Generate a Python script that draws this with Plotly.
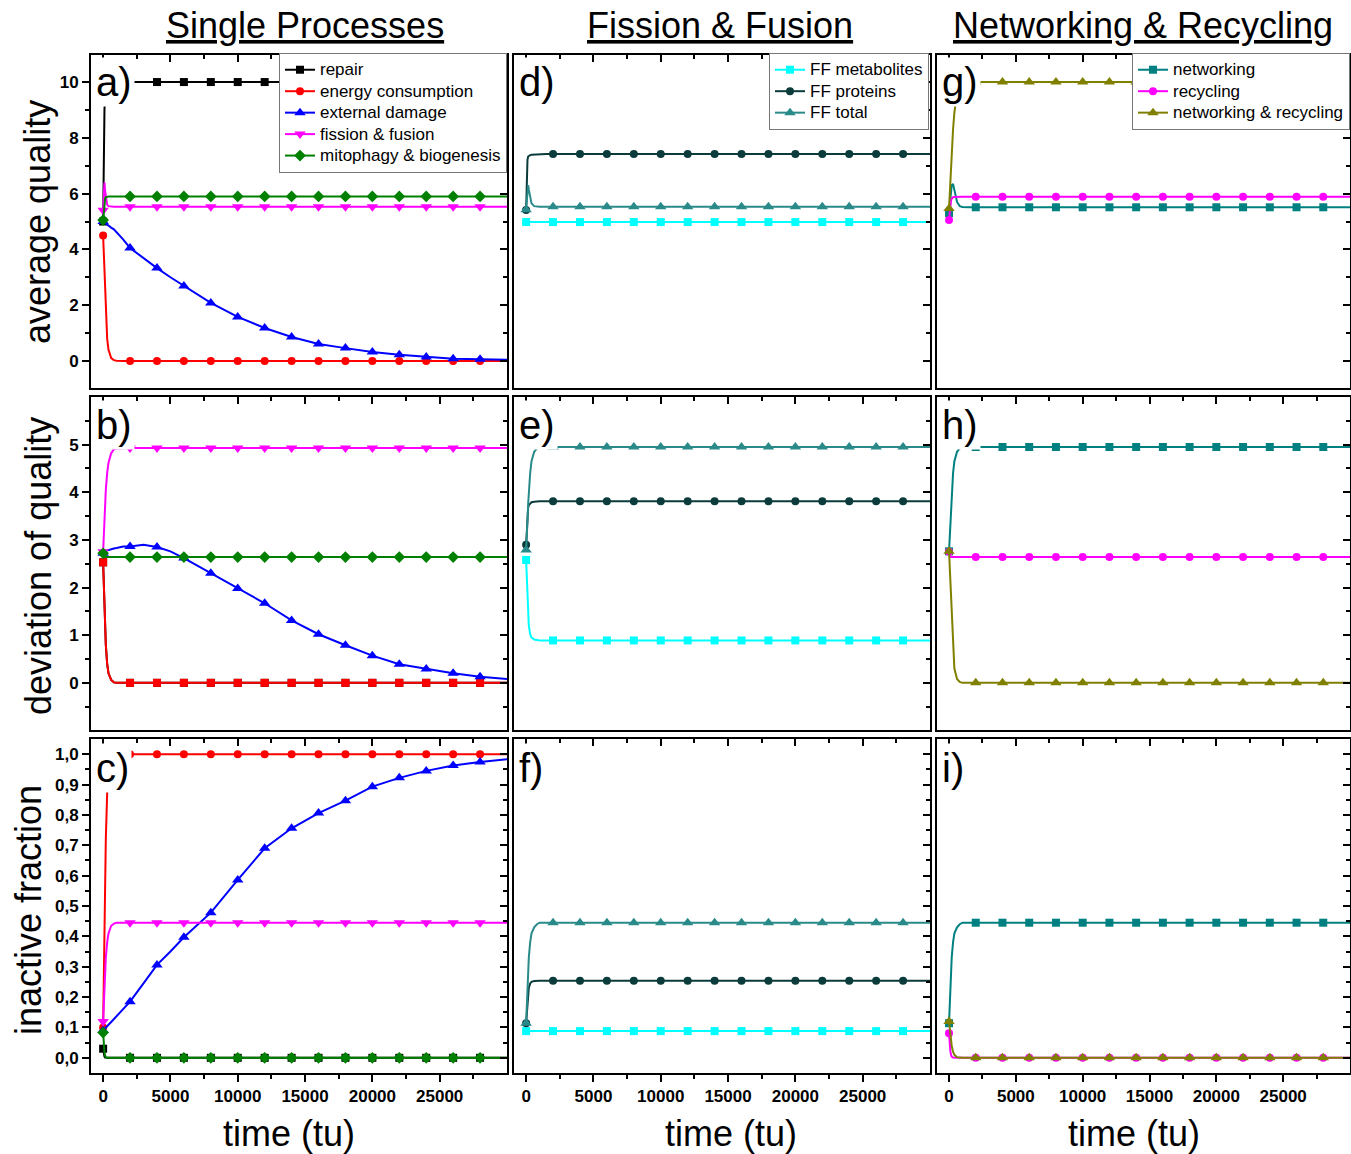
import plotly.graph_objects as go

W, H = 1351, 1154

# ---------------- data ----------------
time = [0, 25, 50, 100, 150, 200, 300, 400, 600, 800, 1000, 1500,
        2000, 3000, 4000, 5000, 6000, 8000, 10000, 12000, 14000, 16000,
        18000, 20000, 22000, 24000, 26000, 28000, 30000]

# Single processes: average quality
repair_q   = [5.0, 6.2, 7.5, 9.0, 9.6, 9.85, 9.97, 10.0, 10.0, 10.0, 10.0, 10.0,
              10.0, 10.0, 10.0, 10.0, 10.0, 10.0, 10.0, 10.0, 10.0, 10.0, 10.0, 10.0, 10.0, 10.0, 10.0, 10.0, 10.0]
energy_q   = [4.5, 4.2, 3.8, 3.0, 2.2, 1.6, 0.8, 0.4, 0.1, 0.03, 0.01, 0.0,
              0.0, 0.0, 0.0, 0.0, 0.0, 0.0, 0.0, 0.0, 0.0, 0.0, 0.0, 0.0, 0.0, 0.0, 0.0, 0.0, 0.0]
external_q = [5.0, 4.99, 4.98, 4.96, 4.94, 4.92, 4.88, 4.85, 4.78, 4.72, 4.62, 4.35,
              4.05, 3.68, 3.33, 3.0, 2.69, 2.08, 1.58, 1.18, 0.86, 0.61, 0.46, 0.32, 0.22, 0.14, 0.08, 0.06, 0.04]
fission_q  = [5.4, 5.8, 6.1, 6.4, 6.1, 5.85, 5.6, 5.55, 5.53, 5.53, 5.53, 5.53,
              5.53, 5.53, 5.53, 5.53, 5.53, 5.53, 5.53, 5.53, 5.53, 5.53, 5.53, 5.53, 5.53, 5.53, 5.53, 5.53, 5.53]
mito_q     = [5.05, 5.25, 5.45, 5.7, 5.82, 5.87, 5.89, 5.9, 5.9, 5.9, 5.9, 5.9,
              5.9, 5.9, 5.9, 5.9, 5.9, 5.9, 5.9, 5.9, 5.9, 5.9, 5.9, 5.9, 5.9, 5.9, 5.9, 5.9, 5.9]

# Single processes: deviation of quality
repair_d   = [2.53, 2.3, 2.0, 1.5, 1.1, 0.8, 0.4, 0.2, 0.06, 0.01, 0.0, 0.0,
              0.0, 0.0, 0.0, 0.0, 0.0, 0.0, 0.0, 0.0, 0.0, 0.0, 0.0, 0.0, 0.0, 0.0, 0.0, 0.0, 0.0]
energy_d   = [2.53, 2.3, 2.0, 1.5, 1.1, 0.8, 0.4, 0.2, 0.06, 0.01, 0.0, 0.0,
              0.0, 0.0, 0.0, 0.0, 0.0, 0.0, 0.0, 0.0, 0.0, 0.0, 0.0, 0.0, 0.0, 0.0, 0.0, 0.0, 0.0]
external_d = [2.72, 2.73, 2.74, 2.75, 2.76, 2.77, 2.78, 2.79, 2.8, 2.82, 2.83, 2.86,
              2.86, 2.9, 2.85, 2.76, 2.62, 2.30, 1.98, 1.67, 1.31, 1.02, 0.79, 0.57, 0.39, 0.29, 0.20, 0.13, 0.08]
fission_d  = [2.75, 2.95, 3.15, 3.5, 3.8, 4.05, 4.4, 4.62, 4.82, 4.9, 4.92, 4.93,
              4.93, 4.93, 4.93, 4.93, 4.93, 4.93, 4.93, 4.93, 4.93, 4.93, 4.93, 4.93, 4.93, 4.93, 4.93, 4.93, 4.93]
mito_d     = [2.72, 2.68, 2.66, 2.64, 2.64, 2.64, 2.64, 2.64, 2.64, 2.64, 2.64, 2.64,
              2.64, 2.64, 2.64, 2.64, 2.64, 2.64, 2.64, 2.64, 2.64, 2.64, 2.64, 2.64, 2.64, 2.64, 2.64, 2.64, 2.64]

# Single processes: inactive fraction
repair_i   = [0.03, 0.02, 0.012, 0.004, 0.001, 0.0, 0.0, 0.0, 0.0, 0.0, 0.0, 0.0,
              0.0, 0.0, 0.0, 0.0, 0.0, 0.0, 0.0, 0.0, 0.0, 0.0, 0.0, 0.0, 0.0, 0.0, 0.0, 0.0, 0.0]
energy_i   = [0.1, 0.18, 0.28, 0.45, 0.6, 0.72, 0.87, 0.94, 0.985, 0.997, 1.0, 1.0,
              1.0, 1.0, 1.0, 1.0, 1.0, 1.0, 1.0, 1.0, 1.0, 1.0, 1.0, 1.0, 1.0, 1.0, 1.0, 1.0, 1.0]
external_i = [0.09, 0.091, 0.092, 0.095, 0.097, 0.1, 0.104, 0.109, 0.118, 0.128, 0.137, 0.16,
              0.185, 0.245, 0.306, 0.35, 0.397, 0.478, 0.586, 0.690, 0.756, 0.806, 0.847, 0.893, 0.922, 0.945, 0.963, 0.974, 0.983]
fission_i  = [0.12, 0.15, 0.18, 0.24, 0.29, 0.33, 0.38, 0.41, 0.435, 0.442, 0.445, 0.445,
              0.445, 0.445, 0.445, 0.445, 0.445, 0.445, 0.445, 0.445, 0.445, 0.445, 0.445, 0.445, 0.445, 0.445, 0.445, 0.445, 0.445]
mito_i     = [0.083, 0.06, 0.042, 0.018, 0.007, 0.002, 0.0, 0.0, 0.0, 0.0, 0.0, 0.0,
              0.0, 0.0, 0.0, 0.0, 0.0, 0.0, 0.0, 0.0, 0.0, 0.0, 0.0, 0.0, 0.0, 0.0, 0.0, 0.0, 0.0]

# Fission & fusion
ffm_q = [4.98, 4.98, 4.98, 4.98, 4.98, 4.98, 4.98, 4.98, 4.98, 4.98, 4.98, 4.98,
         4.98, 4.98, 4.98, 4.98, 4.98, 4.98, 4.98, 4.98, 4.98, 4.98, 4.98, 4.98, 4.98, 4.98, 4.98, 4.98, 4.98]
ffp_q = [5.41, 5.9, 6.5, 7.2, 7.33, 7.36, 7.38, 7.39, 7.4, 7.41, 7.42, 7.42,
         7.42, 7.42, 7.42, 7.42, 7.42, 7.42, 7.42, 7.42, 7.42, 7.42, 7.42, 7.42, 7.42, 7.42, 7.42, 7.42, 7.42]
fft_q = [5.42, 5.6, 5.85, 6.2, 6.3, 6.15, 5.85, 5.65, 5.55, 5.53, 5.53, 5.53,
         5.53, 5.53, 5.53, 5.53, 5.53, 5.53, 5.53, 5.53, 5.53, 5.53, 5.53, 5.53, 5.53, 5.53, 5.53, 5.53, 5.53]
ffm_d = [2.58, 2.35, 2.1, 1.7, 1.4, 1.2, 1.02, 0.95, 0.91, 0.9, 0.89, 0.89,
         0.89, 0.89, 0.89, 0.89, 0.89, 0.89, 0.89, 0.89, 0.89, 0.89, 0.89, 0.89, 0.89, 0.89, 0.89, 0.89, 0.89]
ffp_d = [2.9, 3.1, 3.3, 3.55, 3.67, 3.73, 3.77, 3.79, 3.8, 3.81, 3.81, 3.81,
         3.81, 3.81, 3.81, 3.81, 3.81, 3.81, 3.81, 3.81, 3.81, 3.81, 3.81, 3.81, 3.81, 3.81, 3.81, 3.81, 3.81]
fft_d = [2.79, 2.9, 3.05, 3.4, 3.75, 4.0, 4.4, 4.65, 4.85, 4.92, 4.94, 4.95,
         4.95, 4.95, 4.95, 4.95, 4.95, 4.95, 4.95, 4.95, 4.95, 4.95, 4.95, 4.95, 4.95, 4.95, 4.95, 4.95, 4.95]
ffm_i = [0.088, 0.088, 0.088, 0.088, 0.088, 0.088, 0.088, 0.088, 0.088, 0.088, 0.088, 0.088,
         0.088, 0.088, 0.088, 0.088, 0.088, 0.088, 0.088, 0.088, 0.088, 0.088, 0.088, 0.088, 0.088, 0.088, 0.088, 0.088, 0.088]
ffp_i = [0.114, 0.13, 0.15, 0.19, 0.215, 0.23, 0.245, 0.25, 0.253, 0.254, 0.254, 0.254,
         0.254, 0.254, 0.254, 0.254, 0.254, 0.254, 0.254, 0.254, 0.254, 0.254, 0.254, 0.254, 0.254, 0.254, 0.254, 0.254, 0.254]
fft_i = [0.114, 0.14, 0.17, 0.24, 0.29, 0.33, 0.38, 0.41, 0.43, 0.44, 0.445, 0.445,
         0.445, 0.445, 0.445, 0.445, 0.445, 0.445, 0.445, 0.445, 0.445, 0.445, 0.445, 0.445, 0.445, 0.445, 0.445, 0.445, 0.445]

# Networking & recycling
net_q = [5.3, 5.45, 5.6, 5.9, 6.15, 6.3, 6.35, 6.1, 5.7, 5.55, 5.52, 5.51,
         5.51, 5.51, 5.51, 5.51, 5.51, 5.51, 5.51, 5.51, 5.51, 5.51, 5.51, 5.51, 5.51, 5.51, 5.51, 5.51, 5.51]
rec_q = [5.05, 5.2, 5.35, 5.6, 5.75, 5.82, 5.87, 5.88, 5.89, 5.89, 5.89, 5.89,
         5.89, 5.89, 5.89, 5.89, 5.89, 5.89, 5.89, 5.89, 5.89, 5.89, 5.89, 5.89, 5.89, 5.89, 5.89, 5.89, 5.89]
nr_q  = [5.47, 5.75, 6.0, 6.5, 7.0, 7.5, 8.3, 8.9, 9.6, 9.9, 10.0, 10.0,
         10.0, 10.0, 10.0, 10.0, 10.0, 10.0, 10.0, 10.0, 10.0, 10.0, 10.0, 10.0, 10.0, 10.0, 10.0, 10.0, 10.0]
net_d = [2.76, 2.9, 3.05, 3.4, 3.75, 4.0, 4.4, 4.65, 4.85, 4.92, 4.94, 4.95,
         4.95, 4.95, 4.95, 4.95, 4.95, 4.95, 4.95, 4.95, 4.95, 4.95, 4.95, 4.95, 4.95, 4.95, 4.95, 4.95, 4.95]
rec_d = [2.75, 2.7, 2.67, 2.65, 2.64, 2.64, 2.64, 2.64, 2.64, 2.64, 2.64, 2.64,
         2.64, 2.64, 2.64, 2.64, 2.64, 2.64, 2.64, 2.64, 2.64, 2.64, 2.64, 2.64, 2.64, 2.64, 2.64, 2.64, 2.64]
nr_d  = [2.76, 2.6, 2.4, 2.0, 1.6, 1.25, 0.65, 0.3, 0.08, 0.02, 0.0, 0.0,
         0.0, 0.0, 0.0, 0.0, 0.0, 0.0, 0.0, 0.0, 0.0, 0.0, 0.0, 0.0, 0.0, 0.0, 0.0, 0.0, 0.0]
net_i = [0.114, 0.14, 0.17, 0.24, 0.29, 0.33, 0.38, 0.41, 0.43, 0.44, 0.445, 0.445,
         0.445, 0.445, 0.445, 0.445, 0.445, 0.445, 0.445, 0.445, 0.445, 0.445, 0.445, 0.445, 0.445, 0.445, 0.445, 0.445, 0.445]
rec_i = [0.081, 0.06, 0.045, 0.022, 0.01, 0.004, 0.001, 0.0, 0.0, 0.0, 0.0, 0.0,
         0.0, 0.0, 0.0, 0.0, 0.0, 0.0, 0.0, 0.0, 0.0, 0.0, 0.0, 0.0, 0.0, 0.0, 0.0, 0.0, 0.0]
nr_i  = [0.12, 0.11, 0.1, 0.075, 0.055, 0.04, 0.02, 0.01, 0.002, 0.0, 0.0, 0.0,
         0.0, 0.0, 0.0, 0.0, 0.0, 0.0, 0.0, 0.0, 0.0, 0.0, 0.0, 0.0, 0.0, 0.0, 0.0, 0.0, 0.0]

column_titles = ["Single Processes", "Fission & Fusion", "Networking & Recycling"]
row_titles = ["average quality", "deviation of quality", "inactive fraction"]
x_title = "time (tu)"
panel_letters = [["a)", "b)", "c)"], ["d)", "e)", "f)"], ["g)", "h)", "i)"]]

x_ticks = [0, 5000, 10000, 15000, 20000, 25000]
x_minor = [2500, 7500, 12500, 17500, 22500, 27500]
y_ticks = [[0, 2, 4, 6, 8, 10], [0, 1, 2, 3, 4, 5],
           [0.0, 0.1, 0.2, 0.3, 0.4, 0.5, 0.6, 0.7, 0.8, 0.9, 1.0]]
y_ticktext = [["0", "2", "4", "6", "8", "10"], ["0", "1", "2", "3", "4", "5"],
              ["0,0", "0,1", "0,2", "0,3", "0,4", "0,5", "0,6", "0,7", "0,8", "0,9", "1,0"]]
y_minor = [[1, 3, 5, 7, 9], [-0.5, 0.5, 1.5, 2.5, 3.5, 4.5, 5.5],
           [0.05, 0.15, 0.25, 0.35, 0.45, 0.55, 0.65, 0.75, 0.85, 0.95]]
y_ranges = [[-0.97, 10.97], [-0.99, 6.0], [-0.05, 1.05]]
x_range = [-900, 30000]

# series definitions: (legend name, color, symbol per row, [quality, deviation, inactive])
C_BLACK, C_RED, C_BLUE, C_MAG, C_GREEN = "#000000", "#ff0000", "#0000ff", "#ff00ff", "#008000"
C_CYAN, C_DARK, C_TEAL2, C_TEAL, C_OLIVE = "#00ffff", "#0b3b3b", "#2a8a8a", "#008080", "#808000"

columns = [
    [("repair", C_BLACK, ["square", "square", "square"], [repair_q, repair_d, repair_i]),
     ("energy consumption", C_RED, ["circle", "square", "circle"], [energy_q, energy_d, energy_i]),
     ("external damage", C_BLUE, ["triangle-up"] * 3, [external_q, external_d, external_i]),
     ("fission & fusion", C_MAG, ["triangle-down"] * 3, [fission_q, fission_d, fission_i]),
     ("mitophagy & biogenesis", C_GREEN, ["diamond"] * 3, [mito_q, mito_d, mito_i])],
    [("FF metabolites", C_CYAN, ["square"] * 3, [ffm_q, ffm_d, ffm_i]),
     ("FF proteins", C_DARK, ["circle"] * 3, [ffp_q, ffp_d, ffp_i]),
     ("FF total", C_TEAL2, ["triangle-up"] * 3, [fft_q, fft_d, fft_i])],
    [("networking", C_TEAL, ["square"] * 3, [net_q, net_d, net_i]),
     ("recycling", C_MAG, ["circle"] * 3, [rec_q, rec_d, rec_i]),
     ("networking & recycling", C_OLIVE, ["triangle-up"] * 3, [nr_q, nr_d, nr_i])],
]

# ---------------- figure ----------------
cols_px = [(91, 507), (514, 930), (937, 1350)]
rows_px = [(55, 388), (397, 730), (739, 1073)]
FONT = "Liberation Sans, Arial, sans-serif"

mark_idx = [i for i, t in enumerate(time) if t == 0 or (t % 2000 == 0 and 2000 <= t <= 28000)]
sym_size = {"square": 8, "circle": 8, "triangle-up": 10, "triangle-down": 10, "diamond": 9}

fig = go.Figure()
layout = {}
legend_names = ["legend", "legend2", "legend3"]

for c in range(3):
    for r in range(3):
        n = c * 3 + r + 1
        xs = "" if n == 1 else str(n)
        xa, ya = "x" + xs, "y" + xs
        for (name, color, syms, vals) in columns[c]:
            v = vals[r]
            fig.add_trace(go.Scatter(x=time, y=v, mode="lines", xaxis=xa, yaxis=ya,
                                     line=dict(color=color, width=2), showlegend=False,
                                     hoverinfo="skip"))
            fig.add_trace(go.Scatter(x=[time[i] for i in mark_idx], y=[v[i] for i in mark_idx],
                                     mode="markers", xaxis=xa, yaxis=ya,
                                     marker=dict(color=color, symbol=syms[r], size=sym_size[syms[r]]),
                                     showlegend=False, hoverinfo="skip"))
            if r == 0:
                fig.add_trace(go.Scatter(x=[None], y=[None], mode="lines+markers",
                                         name='<span style="font-size:17px">%s</span>' % name,
                                         xaxis=xa, yaxis=ya, legend=legend_names[c],
                                         line=dict(color=color, width=2),
                                         marker=dict(color=color, symbol=syms[0], size=sym_size[syms[0]])))
        # overlay axes for inside ticks on top / right
        nt = n + 9
        fig.add_trace(go.Scatter(x=[None], y=[None], xaxis="x%d" % nt, yaxis=ya, showlegend=False, hoverinfo="skip"))
        fig.add_trace(go.Scatter(x=[None], y=[None], xaxis=xa, yaxis="y%d" % nt, showlegend=False, hoverinfo="skip"))

        x0, x1 = cols_px[c]
        y0, y1 = rows_px[r]
        bottom = (r == 2)
        left = (c == 0)
        tickfont = dict(family=FONT, size=17, color="black", weight="bold")
        layout["xaxis" + xs] = dict(
            domain=[x0 / W, x1 / W], range=x_range, anchor=ya,
            showline=True, linecolor="black", linewidth=2, mirror=True,
            showgrid=False, zeroline=False,
            tickmode="array", tickvals=x_ticks, ticktext=[str(t) for t in x_ticks],
            ticks="outside" if bottom else "", ticklen=7, tickwidth=2, tickcolor="black",
            showticklabels=bottom, tickfont=tickfont,
            minor=dict(tickmode="array", tickvals=x_minor, ticks="outside" if bottom else "",
                       ticklen=4, tickwidth=1.5, tickcolor="black", showgrid=False),
        )
        layout["xaxis%d" % nt] = dict(
            overlaying=xa, side="top", anchor=ya, range=x_range,
            showline=False, showgrid=False, zeroline=False,
            tickmode="array", tickvals=x_ticks, ticks="inside", ticklen=7, tickwidth=2,
            tickcolor="black", showticklabels=False,
            minor=dict(tickmode="array", tickvals=x_minor, ticks="inside", ticklen=4,
                       tickwidth=1.5, tickcolor="black", showgrid=False),
        )
        layout["yaxis" + xs] = dict(
            domain=[1 - y1 / H, 1 - y0 / H], range=y_ranges[r], anchor=xa,
            showline=True, linecolor="black", linewidth=2, mirror=True,
            showgrid=False, zeroline=False,
            tickmode="array", tickvals=y_ticks[r], ticktext=y_ticktext[r],
            ticks="outside" if left else "", ticklen=7, tickwidth=2, tickcolor="black",
            showticklabels=left, tickfont=tickfont,
            minor=dict(tickmode="array", tickvals=y_minor[r], ticks="outside" if left else "",
                       ticklen=4, tickwidth=1.5, tickcolor="black", showgrid=False),
        )
        layout["yaxis%d" % nt] = dict(
            overlaying=ya, side="right", anchor=xa, range=y_ranges[r],
            showline=False, showgrid=False, zeroline=False,
            tickmode="array", tickvals=y_ticks[r], ticks="inside", ticklen=7, tickwidth=2,
            tickcolor="black", showticklabels=False,
            minor=dict(tickmode="array", tickvals=y_minor[r], ticks="inside", ticklen=4,
                       tickwidth=1.5, tickcolor="black", showgrid=False),
        )

annotations = []
label_y = [82, 425, 768]
label_x = [93, 516, 939]
for c in range(3):
    for r in range(3):
        annotations.append(dict(
            text=panel_letters[c][r], x=label_x[c] / W, y=1 - label_y[r] / H,
            xref="paper", yref="paper", xanchor="left", yanchor="middle",
            showarrow=False, bgcolor="white", borderpad=2,
            font=dict(family=FONT, size=40, color="black")))

title_x = [305, 720, 1143]
time_x = [289, 731, 1134]
for c in range(3):
    annotations.append(dict(
        text="<u>%s</u>" % column_titles[c], x=title_x[c] / W, y=1 - 25 / H,
        xref="paper", yref="paper", xanchor="center", yanchor="middle", showarrow=False,
        font=dict(family=FONT, size=36, color="black")))
    annotations.append(dict(
        text=x_title, x=time_x[c] / W, y=1 - 1133 / H,
        xref="paper", yref="paper", xanchor="center", yanchor="middle", showarrow=False,
        font=dict(family=FONT, size=36, color="black")))

row_title_x = [38, 38, 28]
row_title_y = [222, 566, 910]
for r in range(3):
    annotations.append(dict(
        text=row_titles[r], x=row_title_x[r] / W, y=1 - row_title_y[r] / H, textangle=-90,
        xref="paper", yref="paper", xanchor="center", yanchor="middle", showarrow=False,
        font=dict(family=FONT, size=36, color="black")))

legend_common = dict(xanchor="right", yanchor="top", bgcolor="white",
                     bordercolor="#777777", borderwidth=1,
                     font=dict(family=FONT, size=14.2, color="black"),
                     tracegroupgap=0, itemwidth=30)
legend_right = [507, 929, 1350]
for c in range(3):
    lg = dict(legend_common)
    lg.update(x=legend_right[c] / W, y=1 - 53 / H)
    layout[legend_names[c]] = lg

fig.update_layout(
    width=W, height=H, template="none",
    margin=dict(l=0, r=0, t=0, b=0, pad=0),
    paper_bgcolor="white", plot_bgcolor="white",
    annotations=annotations, **layout)

fig.write_html("out.html")
